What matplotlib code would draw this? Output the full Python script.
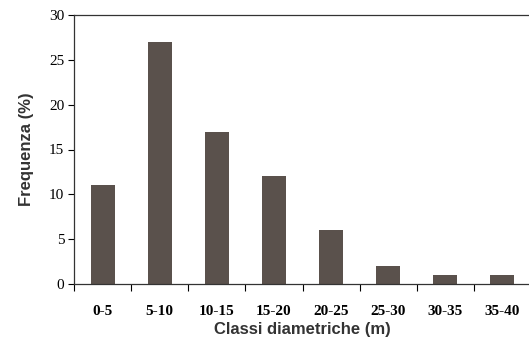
import numpy as np
import matplotlib.pyplot as plt

# Dati
classi = ["0-5", "5-10", "10-15", "15-20", "20-25", "25-30", "30-35", "35-40"]
frequenza = [11, 27, 17, 12, 6, 2, 1, 1]

fig = plt.figure(figsize=(5.29, 3.39), dpi=100)
ax = fig.add_axes([74 / 529, 1 - 284 / 339, 457 / 529, 269 / 339])

x = np.arange(len(classi))
ax.bar(x, frequenza, width=0.42, color="#5a514c", zorder=2)

ax.set_xlim(-0.5, len(classi) - 0.5)
ax.set_ylim(0, 30)
ax.set_yticks([0, 5, 10, 15, 20, 25, 30])

# etichette al centro, tacche ai bordi delle classi
ax.set_xticks(x)
ax.set_xticklabels(classi, fontfamily="Liberation Serif", fontweight="bold", fontsize=11)
ax.set_xticks(np.arange(len(classi)) - 0.5, minor=True)
ax.tick_params(axis="x", which="major", length=0, pad=15)
ax.tick_params(axis="x", which="minor", length=5, direction="out", width=0.8)
ax.tick_params(axis="y", length=4, direction="out", width=0.8, pad=3)
for lab in ax.get_yticklabels():
    lab.set_fontfamily("Liberation Serif")
    lab.set_fontsize(11)

ax.spines["right"].set_visible(False)
for s in ["left", "bottom", "top"]:
    ax.spines[s].set_color("#333333")
    ax.spines[s].set_linewidth(0.9)

ax.set_xlabel("Classi diametriche (m)", fontfamily="Liberation Sans", fontweight="bold",
              fontsize=12, color="#333333", labelpad=3)
ax.set_ylabel("Frequenza (%)", fontfamily="Liberation Sans", fontweight="bold",
              fontsize=12, color="#333333", labelpad=11)

fig.savefig("out.png", dpi=100)
